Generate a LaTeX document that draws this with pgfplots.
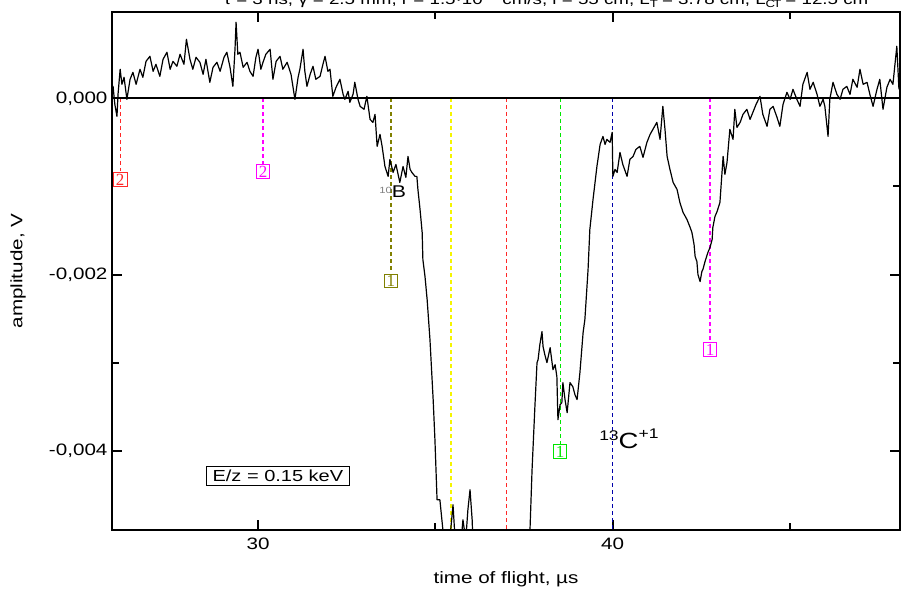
\documentclass[border=0pt]{standalone}
\usepackage{fontspec}
\setmainfont{Liberation Sans}[FakeStretch=1.25]
\newfontfamily\serifnum{Liberation Serif}
\usepackage{pgfplots}
\pgfplotsset{compat=1.18}
\usetikzlibrary{calc}
\definecolor{cred}{RGB}{255,40,40}
\definecolor{cmag}{RGB}{255,0,255}
\definecolor{colive}{RGB}{128,128,0}
\definecolor{cyel}{RGB}{245,245,0}
\definecolor{cgreen}{RGB}{0,230,0}
\definecolor{cnavy}{RGB}{0,0,170}
\tikzset{numbox/.style={draw=#1, text=#1, fill=white, line width=0.7pt, inner xsep=2.5pt, inner ysep=1.2pt, font=\serifnum\fontsize{17}{17}\selectfont},
  mk/.style={#1, line width=1.1pt, dash pattern=on 4pt off 3pt}}
\begin{document}
\begin{tikzpicture}
\begin{axis}[name=ax, at={(0,0)}, anchor=south west, scale only axis,
  width=788pt, height=518pt,
  xmin=25.88, xmax=48.11, ymin=-4.9e-3, ymax=0.98e-3,
  xtick={30,40}, minor xtick={35,45},
  ytick={-0.004,-0.002,0}, minor ytick={-0.003,-0.001},
  tick align=inside, major tick length=10pt, minor tick length=7pt,
  every tick/.style={black, line width=2pt},
  axis line style={line width=2.4pt},
  scaled y ticks=false,
  yticklabel style={/pgf/number format/fixed, /pgf/number format/fixed zerofill, /pgf/number format/precision=3, /pgf/number format/use comma, xshift=-1pt},
  /pgf/number format/assume math mode=true,
  ticklabel style={font=\fontsize{16.5}{17}\selectfont},
  xticklabel style={yshift=-4pt},
  xlabel={time of flight, µs}, ylabel={amplitude, V},
  label style={font=\fontsize{16.5}{17}\selectfont},
  xlabel style={at={(axis description cs:0.5,-0.096)}, anchor=center},
  ylabel style={at={(axis description cs:-0.119,0.5)}, anchor=center},
  clip=true]
% vertical marker lines
\addplot[mk=cred] coordinates {(26.11,0) (26.11,-0.83e-3)};
\addplot[mk=cmag] coordinates {(30.14,0) (30.14,-0.74e-3)};
\addplot[mk=colive] coordinates {(33.75,0) (33.75,-1.98e-3)};
\addplot[mk=cyel, line width=1.3pt] coordinates {(35.44,0) (35.44,-4.9e-3)};
\addplot[mk=cred] coordinates {(37.02,0) (37.02,-4.9e-3)};
\addplot[mk=cgreen] coordinates {(38.52,0) (38.52,-3.92e-3)};
\addplot[mk=cnavy] coordinates {(40.0,0) (40.0,-4.9e-3)};
\addplot[mk=cmag] coordinates {(42.75,0) (42.75,-2.76e-3)};
% signal
\addplot[black, line width=1.2pt, line join=round] table {
25.88 0.045e-3
25.91 0.136e-3
25.96 -0.068e-3
26.02 -0.205e-3
26.05 0.045e-3
26.11 0.330e-3
26.16 0.159e-3
26.22 0.239e-3
26.30 -0.011e-3
26.39 0.216e-3
26.47 0.295e-3
26.56 0.159e-3
26.67 0.330e-3
26.75 0.239e-3
26.84 0.420e-3
26.95 0.477e-3
27.04 0.307e-3
27.12 0.386e-3
27.23 0.250e-3
27.32 0.443e-3
27.43 0.523e-3
27.52 0.330e-3
27.60 0.420e-3
27.71 0.364e-3
27.80 0.500e-3
27.91 0.386e-3
27.98 0.670e-3
28.08 0.443e-3
28.16 0.330e-3
28.25 0.466e-3
28.36 0.409e-3
28.45 0.273e-3
28.53 0.443e-3
28.64 0.182e-3
28.73 0.352e-3
28.84 0.409e-3
28.93 0.307e-3
29.04 0.466e-3
29.12 0.523e-3
29.21 0.352e-3
29.29 0.136e-3
29.35 0.557e-3
29.38 0.864e-3
29.43 0.500e-3
29.49 0.523e-3
29.58 0.352e-3
29.69 0.409e-3
29.77 0.307e-3
29.86 0.250e-3
29.94 0.466e-3
30.00 0.557e-3
30.08 0.330e-3
30.14 0.409e-3
30.22 0.500e-3
30.34 0.557e-3
30.42 0.216e-3
30.51 0.420e-3
30.62 0.477e-3
30.70 0.330e-3
30.82 0.409e-3
30.93 0.273e-3
31.04 -0.011e-3
31.13 0.239e-3
31.18 0.330e-3
31.27 0.557e-3
31.32 0.307e-3
31.38 0.136e-3
31.47 0.273e-3
31.55 0.364e-3
31.63 0.216e-3
31.75 0.250e-3
31.83 0.386e-3
31.89 0.477e-3
31.97 0.307e-3
32.03 0.330e-3
32.11 0.023e-3
32.20 0.125e-3
32.31 0.216e-3
32.40 0.045e-3
32.45 -0.011e-3
32.54 0.080e-3
32.59 -0.045e-3
32.68 0.045e-3
32.73 0.182e-3
32.82 -0.011e-3
32.88 -0.091e-3
32.99 -0.125e-3
33.07 0.023e-3
33.16 -0.239e-3
33.24 -0.273e-3
33.30 -0.182e-3
33.36 -0.545e-3
33.44 -0.409e-3
33.50 -0.545e-3
33.58 -0.773e-3
33.67 -0.886e-3
33.72 -0.693e-3
33.81 -0.841e-3
33.89 -0.750e-3
34.00 -0.955e-3
34.09 -0.773e-3
34.17 -0.898e-3
34.23 -0.659e-3
34.29 -0.807e-3
34.34 -0.841e-3
34.43 -0.886e-3
34.48 -0.886e-3
34.51 -1.034e-3
34.57 -1.261e-3
34.63 -1.523e-3
34.65 -1.830e-3
34.71 -2.023e-3
34.77 -2.284e-3
34.85 -2.739e-3
34.94 -3.420e-3
34.99 -3.875e-3
35.05 -4.557e-3
35.13 -4.557e-3
35.22 -4.920e-3
35.30 -5.239e-3
35.41 -5.011e-3
35.50 -4.614e-3
35.56 -5.011e-3
35.64 -5.239e-3
35.72 -5.068e-3
35.78 -4.784e-3
35.86 -5.011e-3
35.92 -4.670e-3
35.98 -4.443e-3
36.04 -4.784e-3
36.06 -5.011e-3
36.15 -5.352e-3
36.83 -5.466e-3
37.53 -5.352e-3
37.67 -4.920e-3
37.73 -4.216e-3
37.81 -3.500e-3
37.87 -3.000e-3
37.90 -2.966e-3
37.95 -2.795e-3
38.01 -2.648e-3
38.04 -2.818e-3
38.09 -2.909e-3
38.15 -3.000e-3
38.24 -2.830e-3
38.32 -3.080e-3
38.38 -3.023e-3
38.43 -3.159e-3
38.46 -3.648e-3
38.52 -3.477e-3
38.57 -3.455e-3
38.60 -3.227e-3
38.66 -3.420e-3
38.72 -3.568e-3
38.80 -3.227e-3
38.88 -3.273e-3
38.94 -3.364e-3
39.00 -3.420e-3
39.08 -3.114e-3
39.17 -2.659e-3
39.22 -2.511e-3
39.31 -1.943e-3
39.36 -1.489e-3
39.45 -1.148e-3
39.56 -0.773e-3
39.65 -0.523e-3
39.73 -0.432e-3
39.79 -0.523e-3
39.84 -0.466e-3
39.93 -0.500e-3
39.99 -0.386e-3
40.01 -0.886e-3
40.07 -0.807e-3
40.13 -0.841e-3
40.21 -0.614e-3
40.29 -0.750e-3
40.41 -0.886e-3
40.49 -0.693e-3
40.58 -0.659e-3
40.66 -0.580e-3
40.77 -0.545e-3
40.86 -0.670e-3
40.97 -0.500e-3
41.06 -0.409e-3
41.14 -0.352e-3
41.25 -0.273e-3
41.34 -0.466e-3
41.42 -0.091e-3
41.48 -0.352e-3
41.54 -0.659e-3
41.62 -0.807e-3
41.71 -0.955e-3
41.82 -1.034e-3
41.90 -1.182e-3
41.99 -1.295e-3
42.10 -1.375e-3
42.19 -1.466e-3
42.24 -1.523e-3
42.30 -1.659e-3
42.33 -1.795e-3
42.38 -1.852e-3
42.41 -2.000e-3
42.47 -2.080e-3
42.52 -1.966e-3
42.55 -1.943e-3
42.61 -1.852e-3
42.69 -1.750e-3
42.75 -1.693e-3
42.81 -1.602e-3
42.83 -1.466e-3
42.89 -1.341e-3
42.95 -1.284e-3
43.03 -1.182e-3
43.12 -0.659e-3
43.17 -0.864e-3
43.23 -0.727e-3
43.31 -0.352e-3
43.40 -0.466e-3
43.45 -0.125e-3
43.51 -0.330e-3
43.60 -0.273e-3
43.68 -0.182e-3
43.79 -0.125e-3
43.88 -0.239e-3
43.96 -0.159e-3
44.05 -0.068e-3
44.16 0.023e-3
44.24 -0.182e-3
44.36 -0.318e-3
44.44 -0.125e-3
44.53 -0.091e-3
44.64 -0.216e-3
44.72 -0.318e-3
44.81 -0.068e-3
44.92 0.068e-3
45.01 -0.011e-3
45.09 0.102e-3
45.20 -0.011e-3
45.29 -0.091e-3
45.37 0.159e-3
45.49 0.295e-3
45.57 0.102e-3
45.66 0.182e-3
45.77 0.045e-3
45.85 -0.091e-3
45.94 -0.011e-3
45.99 -0.091e-3
46.08 -0.432e-3
46.13 -0.011e-3
46.22 0.182e-3
46.33 0.045e-3
46.42 -0.011e-3
46.50 0.102e-3
46.61 0.136e-3
46.70 0.045e-3
46.78 0.216e-3
46.90 0.125e-3
46.98 0.330e-3
47.07 0.159e-3
47.18 0.182e-3
47.26 0.045e-3
47.35 -0.091e-3
47.46 0.102e-3
47.54 0.216e-3
47.63 -0.125e-3
47.74 0.125e-3
47.83 0.216e-3
47.91 0.159e-3
48.02 0.591e-3
48.08 0.102e-3
};
% zero line
\addplot[black, line width=2.2pt] coordinates {(25.88,0) (48.11,0)};
% number boxes
\node[numbox=cred] at (axis cs:26.11,-0.92e-3) {2};
\node[numbox=cmag] at (axis cs:30.14,-0.83e-3) {2};
\node[numbox=colive] at (axis cs:33.75,-2.07e-3) {1};
\node[numbox=cgreen] at (axis cs:38.52,-4.01e-3) {1};
\node[numbox=cmag] at (axis cs:42.75,-2.85e-3) {1};
% labels
\node[anchor=base west, inner sep=0pt, font=\fontsize{17}{17}\selectfont] at (axis cs:33.42,-1.13e-3) {\raisebox{4pt}{\textcolor{gray}{\fontsize{9}{9}\selectfont 10}}B};
\node[anchor=base west, inner sep=0pt, font=\fontsize{22}{22}\selectfont] at (axis cs:39.62,-3.98e-3) {\raisebox{8pt}{\fontsize{14}{14}\selectfont 13}C\raisebox{10pt}{\fontsize{14}{14}\selectfont +1}};
\node[draw=black, fill=white, line width=0.9pt, inner xsep=6pt, inner ysep=3.5pt, font=\fontsize{16}{16}\selectfont] at (axis cs:30.56,-4.284e-3) {E/z = 0.15 keV};
\end{axis}
\node[anchor=base, font=\fontsize{15}{15}\selectfont] at ($(ax.north)+(40pt,7pt)$) {τ = 3 ns, γ = 2.5 mm, r = 1.5·10$^{-5}$ cm/s, l = 55 cm, L$_{\mathrm{T}}$ = 3.78 cm, L$_{\mathrm{CT}}$ = 12.5 cm};
\pgfresetboundingbox
\path[use as bounding box] ($(ax.south west)+(-112pt,-62pt)$) rectangle ($(ax.north east)+(1pt,12pt)$);
\end{tikzpicture}
\end{document}
